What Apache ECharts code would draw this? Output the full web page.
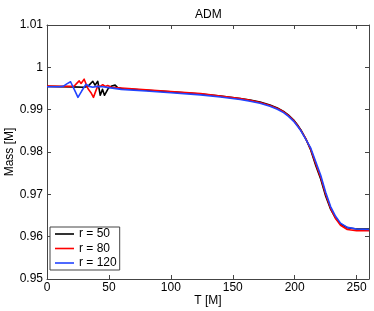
<!DOCTYPE html>
<html><head><meta charset="utf-8">
<script src="https://cdn.jsdelivr.net/npm/echarts@6/dist/echarts.min.js"></script>
<style>html,body{margin:0;padding:0;background:#fff}#c{width:374px;height:311px}</style>
</head><body><div id="c"></div>
<script>
var seriesNames = ['r = 50', 'r = 80', 'r = 120'];
var tBlack = [0,10,20,30,33,37,38.8,41,43,44.8,46.4,49.6,52.3,55,57,60,80,100,124,140,148,156,164,172,180,186,191,195,199,202,205,209,213,217,221,225,229,233,237,242.5,250,260];
var mBlack = [0.9955,0.99545,0.99538,0.9953,0.9955,0.9967,0.9958,0.9967,0.9934,0.9948,0.9934,0.9951,0.9956,0.9958,0.9952,0.9950,0.9946,0.9942,0.9937,0.9932,0.9929,0.9926,0.9923,0.9918,0.9911,0.9904,0.9896,0.9887,0.9876,0.9865,0.9852,0.9831,0.9804,0.9768,0.9736,0.9696,0.9665,0.9644,0.9630,0.9621,0.9618,0.9618];
var tRed = [0,10,20,22,24,26,27.5,30,33,35.5,37.5,39.5,41,43,45,47,49,52,55,60,80,100,124,140,148,156,164,172,180,186,191,195,199,202,205,209,213,217,221,225,229,233,237,242.5,250,260];
var mRed = [0.99555,0.9955,0.9955,0.9956,0.9962,0.9968,0.9962,0.9972,0.9950,0.9940,0.9929,0.9945,0.9956,0.9955,0.9959,0.9955,0.9957,0.9953,0.9952,0.9951,0.9947,0.9943,0.9938,0.9932,0.9929,0.9926,0.9922,0.9917,0.9910,0.9903,0.9895,0.9886,0.9875,0.9864,0.9851,0.9831,0.9806,0.9772,0.9740,0.9700,0.9667,0.9643,0.9627,0.9617,0.9614,0.9614];
var tBlue = [0,10,13,16,19,22,25,28,31.5,34,37,40,45,50,60,80,100,124,140,148,156,164,172,180,186,191,195,199,202,205,209,213,217,221,225,229,233,237,242.5,250,260];
var mBlue = [0.9954,0.9954,0.9955,0.9961,0.9966,0.9948,0.9929,0.9944,0.9960,0.9955,0.9953,0.9955,0.9954,0.9952,0.9948,0.9944,0.9940,0.9935,0.9930,0.9927,0.9924,0.9920,0.9915,0.9908,0.9901,0.9893,0.9884,0.9873,0.9862,0.9850,0.9830,0.9809,0.9777,0.9745,0.9705,0.9671,0.9648,0.9632,0.9622,0.9618,0.9617];

function pairs(t, m){ return t.map(function(v,i){ return [v, m[i]]; }); }
var font = 'Liberation Sans, Arial, sans-serif';
var axisCol = '#444';
var chart = echarts.init(document.getElementById('c'));
function mkSeries(name, t, m, color){
  return {name:name, type:'line', data:pairs(t,m), showSymbol:false, symbol:'none',
    smooth:false, lineStyle:{color:color, width:1.6, join:'round'}, itemStyle:{color:color}, z:3};
}
chart.setOption({
  animation:false,
  title:{text:'ADM', left:190, top:4, textStyle:{fontFamily:font, fontSize:12, fontWeight:'normal', color:'#000'}},
  grid:{left:47, right:5, top:25, bottom:32, containLabel:false, outerBoundsMode:'none'},
  xAxis:[
    {type:'value', min:0, max:260, interval:50, position:'bottom',
     name:'T [M]', nameLocation:'middle', nameGap:16, nameMoveOverlap:false, nameTextStyle:{fontFamily:font, fontSize:12, color:'#000'},
     axisLine:{show:true, lineStyle:{color:axisCol, width:1}}, axisTick:{show:true, inside:true, length:4, lineStyle:{color:axisCol}},
     axisLabel:{fontFamily:font, fontSize:12, color:'#000', margin:3, showMaxLabel:false}, splitLine:{show:false}},
    {type:'value', min:0, max:260, interval:50, position:'top',
     axisLine:{show:true, onZero:false, lineStyle:{color:axisCol, width:1}}, axisTick:{show:true, inside:true, length:4, lineStyle:{color:axisCol}},
     axisLabel:{show:false}, splitLine:{show:false}}
  ],
  yAxis:[
    {type:'value', min:0.95, max:1.01, interval:0.01, position:'left',
     name:'Mass [M]', nameLocation:'middle', nameGap:31, nameMoveOverlap:false, nameTextStyle:{fontFamily:font, fontSize:12, color:'#000'},
     axisLine:{show:true, lineStyle:{color:axisCol, width:1}}, axisTick:{show:true, inside:true, length:4, lineStyle:{color:axisCol}},
     axisLabel:{fontFamily:font, fontSize:12, color:'#000', margin:4, formatter:function(v){ return String(+v.toFixed(2)); }},
     splitLine:{show:false}},
    {type:'value', min:0.95, max:1.01, interval:0.01, position:'right',
     axisLine:{show:true, onZero:false, lineStyle:{color:axisCol, width:1}}, axisTick:{show:true, inside:true, length:4, lineStyle:{color:axisCol}},
     axisLabel:{show:false}, splitLine:{show:false}}
  ],
  legend:{orient:'vertical', left:50, top:227, data:seriesNames, icon:'rect', itemWidth:19, itemHeight:1.6, itemGap:2.5,
    padding:[1,3,1,5], borderColor:'#444', borderWidth:1, backgroundColor:'#fff',
    textStyle:{fontFamily:font, fontSize:12, color:'#000'}},
  series:[
    mkSeries(seriesNames[0], tBlack, mBlack, '#000000'),
    mkSeries(seriesNames[1], tRed, mRed, '#ff0000'),
    mkSeries(seriesNames[2], tBlue, mBlue, '#2244ff')
  ]
});
</script></body></html>
